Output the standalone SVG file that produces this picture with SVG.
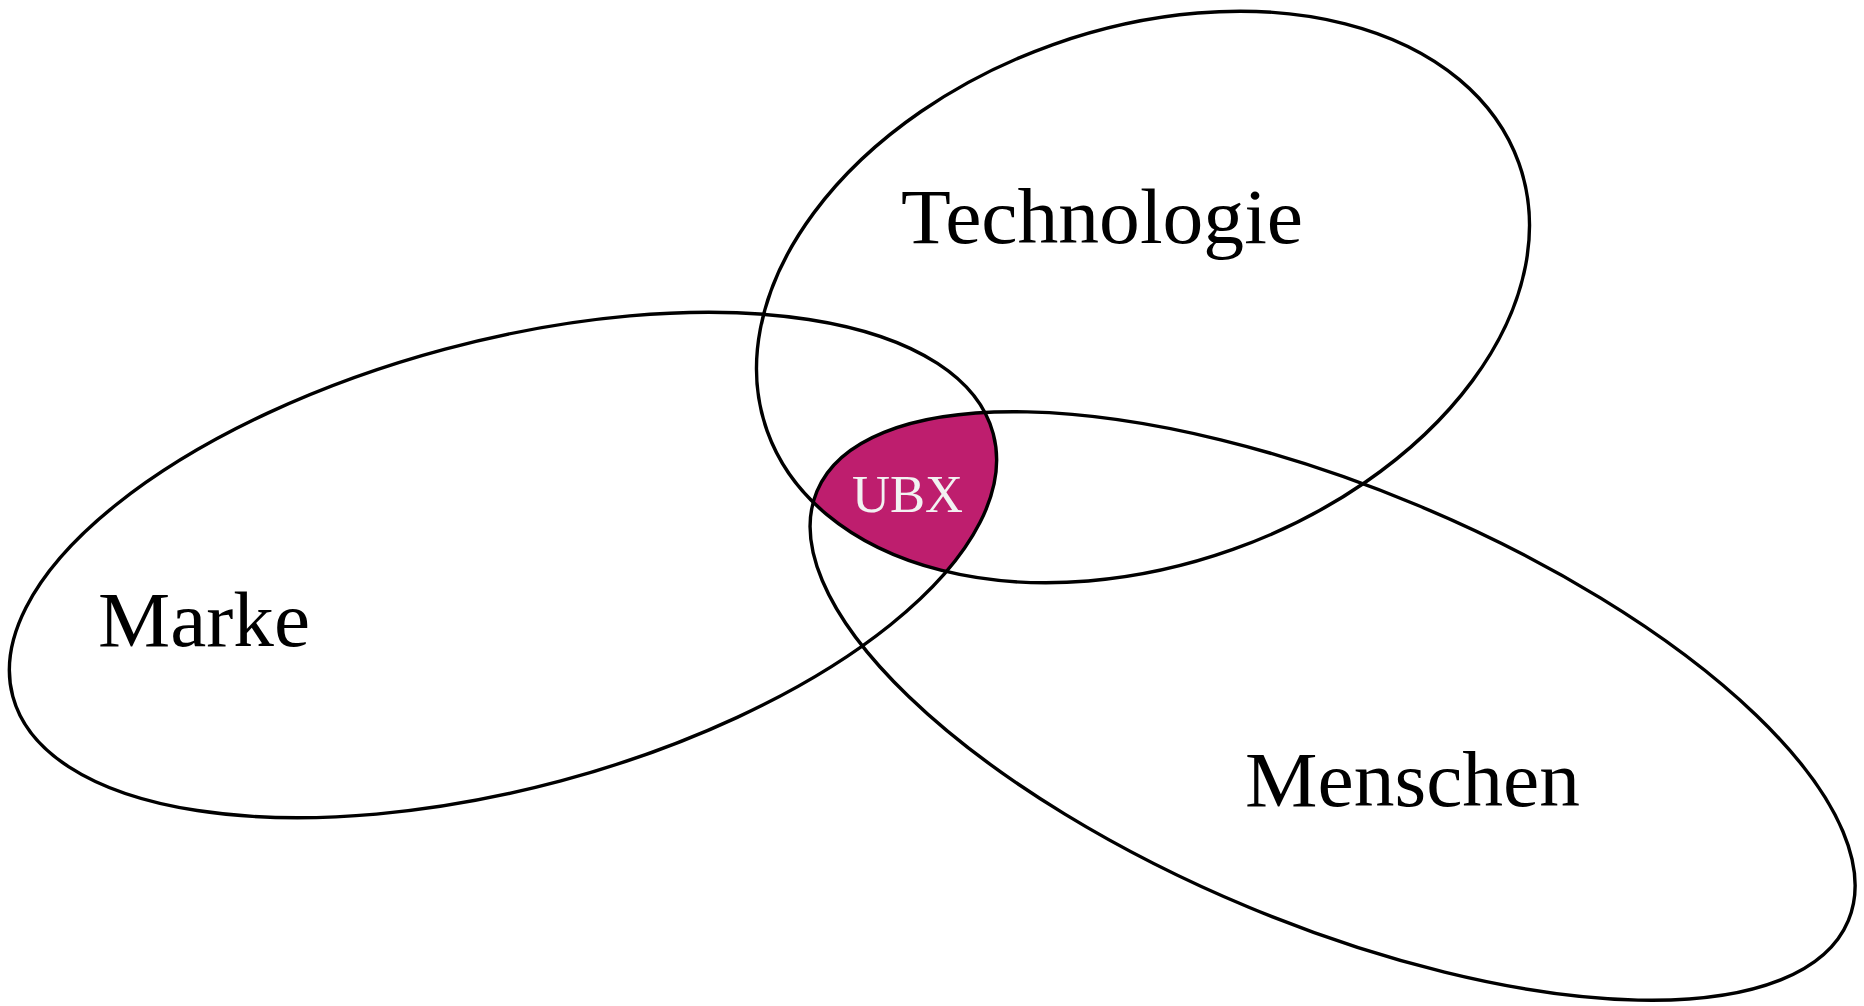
<svg xmlns="http://www.w3.org/2000/svg" width="1864" height="1006" viewBox="0 0 1864 1006">
<style>
.ring{fill:none;stroke:#000;stroke-width:3.4}
.lbl{font-family:"Liberation Serif","Times New Roman",serif;font-size:78px;fill:#000}
.ubx{font-family:"Liberation Serif","Times New Roman",serif;font-size:53px;fill:#F2F2F2}
</style>
<defs>
<clipPath id="cMarke"><ellipse cx="503" cy="565" rx="507.5" ry="223.5" transform="rotate(-15 503 565)"/></clipPath>
<clipPath id="cTech"><ellipse cx="1143" cy="297" rx="399" ry="268" transform="rotate(-19.6 1143 297)"/></clipPath>
</defs>
<rect width="1864" height="1006" fill="#fff"/>
<g id="ubx-area" clip-path="url(#cMarke)">
<g clip-path="url(#cTech)">
<ellipse cx="1332.6" cy="706" rx="558.6" ry="218" transform="rotate(22.6 1332.6 706)" fill="#BE1E6E"/>
</g>
</g>
<g id="connectors"></g>
<g id="technologie">
<ellipse class="ring" cx="1143" cy="297" rx="399" ry="268" transform="rotate(-19.6 1143 297)"/>
<text class="lbl" x="901" y="243" textLength="402" lengthAdjust="spacingAndGlyphs">Technologie</text>
</g>
<g id="marke">
<ellipse class="ring" cx="503" cy="565" rx="507.5" ry="223.5" transform="rotate(-15 503 565)"/>
<text class="lbl" x="98" y="646" textLength="212" lengthAdjust="spacingAndGlyphs">Marke</text>
</g>
<g id="menschen">
<ellipse class="ring" cx="1332.6" cy="706" rx="558.6" ry="218" transform="rotate(22.6 1332.6 706)"/>
<text class="lbl" x="1245" y="806" textLength="335" lengthAdjust="spacingAndGlyphs">Menschen</text>
</g>
<g id="ubx">
<text class="ubx" x="852" y="512" textLength="111" lengthAdjust="spacingAndGlyphs">UBX</text>
</g>
</svg>
